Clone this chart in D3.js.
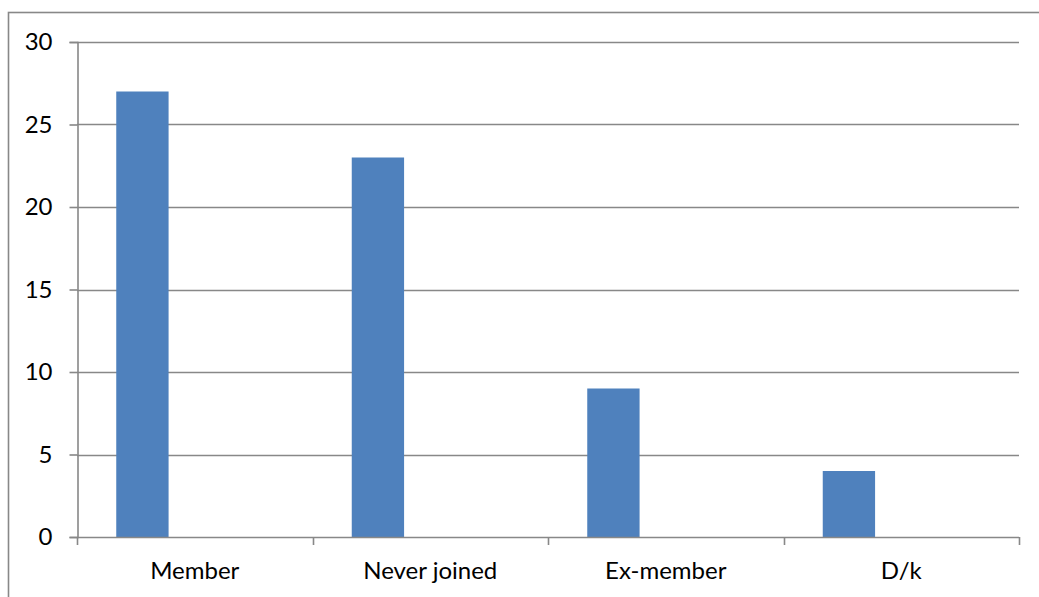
<!DOCTYPE html>
<html>
<head>
<meta charset="utf-8">
<script src="https://cdn.jsdelivr.net/npm/d3@7"></script>
<style>
  html, body { margin: 0; padding: 0; background: #fff; }
  svg { display: block; }
  text { font-family: Lato, "Open Sans", sans-serif; fill: #000; }
</style>
</head>
<body>
<svg id="chart" width="1039" height="597"></svg>
<script>
// Survey responses: membership status counts
const categories = ["Member", "Never joined", "Ex-member", "D/k"];
const counts = [27, 23, 9, 4];
const yTicks = [0, 5, 10, 15, 20, 25, 30];
// cluster slots per category (only the first one carries data)
const slots = ["s1", "s2", "s3"];

const W = 1039, H = 597;
const plot = { left: 77, right: 1019, top: 42, bottom: 537 };
const gridColor = "#888888";
const barColor = "#4F81BD";
const fontSize = 24;

const svg = d3.select("#chart");

// outer chart frame (only the top and left edges fall inside the view)
svg.append("rect")
  .attr("x", 8.5).attr("y", 12.5)
  .attr("width", W + 20).attr("height", H + 20)
  .attr("fill", "#fff")
  .attr("stroke", gridColor)
  .attr("stroke-width", 1.6);

const x = d3.scaleBand()
  .domain(categories)
  .range([plot.left, plot.right])
  .paddingInner(0).paddingOuter(0);

const xSlot = d3.scaleBand()
  .domain(slots)
  .range([0, x.bandwidth()])
  .paddingInner(0)
  .paddingOuter(0.75);

const y = d3.scaleLinear()
  .domain([0, 30])
  .range([plot.bottom, plot.top]);

// horizontal gridlines
svg.append("g")
  .selectAll("line")
  .data(yTicks.filter(t => t > 0))
  .join("line")
  .attr("x1", plot.left).attr("x2", plot.right)
  .attr("y1", d => Math.round(y(d)) + 0.5)
  .attr("y2", d => Math.round(y(d)) + 0.5)
  .attr("stroke", gridColor)
  .attr("stroke-width", 1.3);

// bars
svg.append("g")
  .selectAll("rect")
  .data(categories.map((c, i) => ({ c, v: counts[i] })))
  .join("rect")
  .attr("x", d => x(d.c) + xSlot("s1"))
  .attr("width", xSlot.bandwidth())
  .attr("y", d => y(d.v))
  .attr("height", d => y(0) - y(d.v))
  .attr("fill", barColor);

// y axis
const yAxis = d3.axisLeft(y)
  .tickValues(yTicks)
  .tickSize(8)
  .tickPadding(17)
  .tickFormat(d3.format("d"));

const gy = svg.append("g")
  .attr("transform", `translate(${plot.left + 0.5},0)`)
  .call(yAxis);
gy.select(".domain").attr("stroke", gridColor).attr("stroke-width", 1.6);
gy.selectAll(".tick line").attr("stroke", gridColor).attr("stroke-width", 1.6);
gy.selectAll(".tick text")
  .attr("font-size", fontSize)
  .attr("font-family", "Lato, 'Open Sans', sans-serif")
  .attr("fill", "#000");

// x axis: baseline with ticks at category boundaries
const gx = svg.append("g");
gx.append("line")
  .attr("x1", plot.left).attr("x2", plot.right)
  .attr("y1", plot.bottom + 0.5).attr("y2", plot.bottom + 0.5)
  .attr("stroke", gridColor).attr("stroke-width", 1.6);

const boundaries = categories.map(c => x(c)).concat([x.range()[1]]);
gx.selectAll("line.tick")
  .data(boundaries)
  .join("line")
  .attr("class", "tick")
  .attr("x1", d => Math.round(d) + 0.5).attr("x2", d => Math.round(d) + 0.5)
  .attr("y1", plot.bottom).attr("y2", plot.bottom + 8)
  .attr("stroke", gridColor).attr("stroke-width", 1.6);

gx.selectAll("text")
  .data(categories)
  .join("text")
  .attr("x", d => x(d) + x.bandwidth() / 2)
  .attr("y", 579)
  .attr("text-anchor", "middle")
  .attr("font-size", fontSize)
  .text(d => d);
</script>
</body>
</html>
